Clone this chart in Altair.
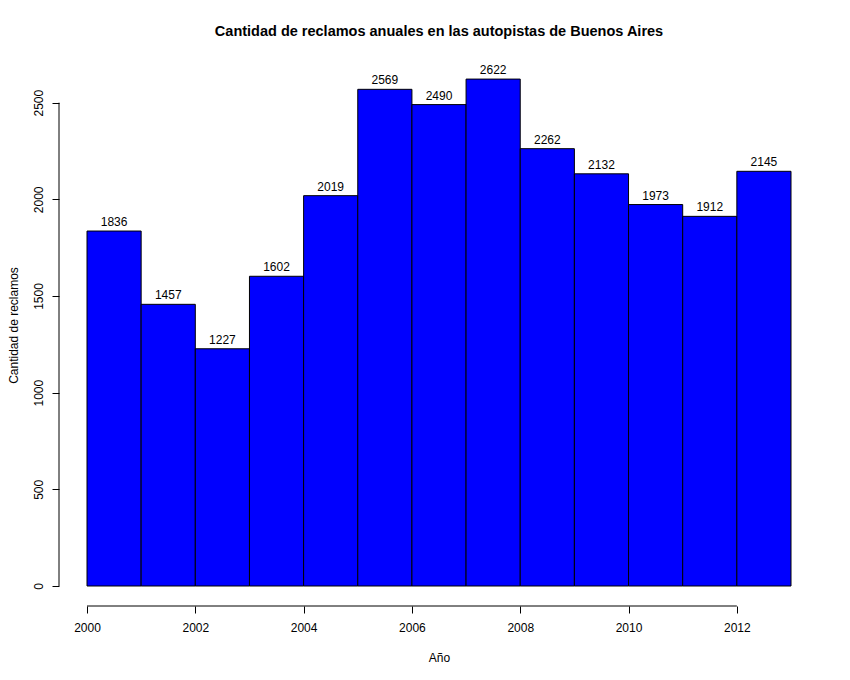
import altair as alt
import pandas as pd

years = list(range(2000, 2013))
values = [1836, 1457, 1227, 1602, 2019, 2569, 2490, 2622, 2262, 2132, 1973, 1912, 2145]
x_ticks = [2000, 2002, 2004, 2006, 2008, 2010, 2012]
y_ticks = [0, 500, 1000, 1500, 2000, 2500]

df = pd.DataFrame({"year": years, "value": values})

W, H = 704, 522
FONT = "Liberation Sans"

xscale = alt.Scale(domain=[2000, 2013], nice=False, zero=False)
yscale = alt.Scale(domain=[0, 2700], nice=False)

base = alt.Chart(df).transform_calculate(end="datum.year + 1", mid="datum.year + 0.5")

bars = base.mark_rect(color="#0000FF", stroke="black", strokeWidth=1).encode(
    x=alt.X("year:Q", scale=xscale,
            axis=alt.Axis(values=x_ticks, format="d", title="Año", offset=20, tickSize=7,
                          domain=False, grid=False, labelFlush=False, labelOverlap=False,
                          labelFont=FONT, labelFontSize=12,
                          labelColor="black", tickColor="black", labelPadding=9,
                          titleFont=FONT, titleFontSize=12, titleFontWeight="normal",
                          titleColor="black", titlePadding=19)),
    x2="end:Q",
    y=alt.Y("value:Q", scale=yscale,
            axis=alt.Axis(values=y_ticks, format="d", title="Cantidad de reclamos", offset=28, tickSize=7,
                          domain=False, grid=False, labelFlush=False, labelOverlap=False,
                          labelAngle=-90, labelAlign="center",
                          labelBaseline="bottom", labelFont=FONT, labelFontSize=12,
                          labelColor="black", tickColor="black", labelPadding=7,
                          titleFont=FONT, titleFontSize=12, titleFontWeight="normal",
                          titleColor="black", titlePadding=12)),
    y2=alt.datum(0),
)

labels = base.mark_text(font=FONT, fontSize=12, color="black", baseline="bottom", dy=-2).encode(
    x=alt.X("mid:Q", scale=xscale),
    y=alt.Y("value:Q", scale=yscale),
    text=alt.Text("value:Q", format="d"),
)

xaxis_df = pd.DataFrame({"a": [x_ticks[0]], "b": [x_ticks[-1]]})
xline = alt.Chart(xaxis_df).mark_rule(color="black", strokeWidth=1).encode(
    x=alt.X("a:Q", scale=xscale), x2="b:Q", y=alt.value(H + 20)
)
yaxis_df = pd.DataFrame({"a": [y_ticks[0]], "b": [y_ticks[-1]]})
yline = alt.Chart(yaxis_df).mark_rule(color="black", strokeWidth=1).encode(
    y=alt.Y("a:Q", scale=yscale), y2="b:Q", x=alt.value(-28)
)

chart = alt.layer(bars, labels, xline, yline).properties(
    width=W, height=H,
    title=alt.TitleParams("Cantidad de reclamos anuales en las autopistas de Buenos Aires",
                          font=FONT, fontSize=14.5, fontWeight="bold", color="black",
                          anchor="middle", offset=25),
    autosize=alt.AutoSizeParams(type="none"),
    padding={"left": 79, "top": 56, "right": 40, "bottom": 80},
).configure_view(stroke=None)

chart.save("out.html", embed_options={"renderer": "svg", "actions": False})
